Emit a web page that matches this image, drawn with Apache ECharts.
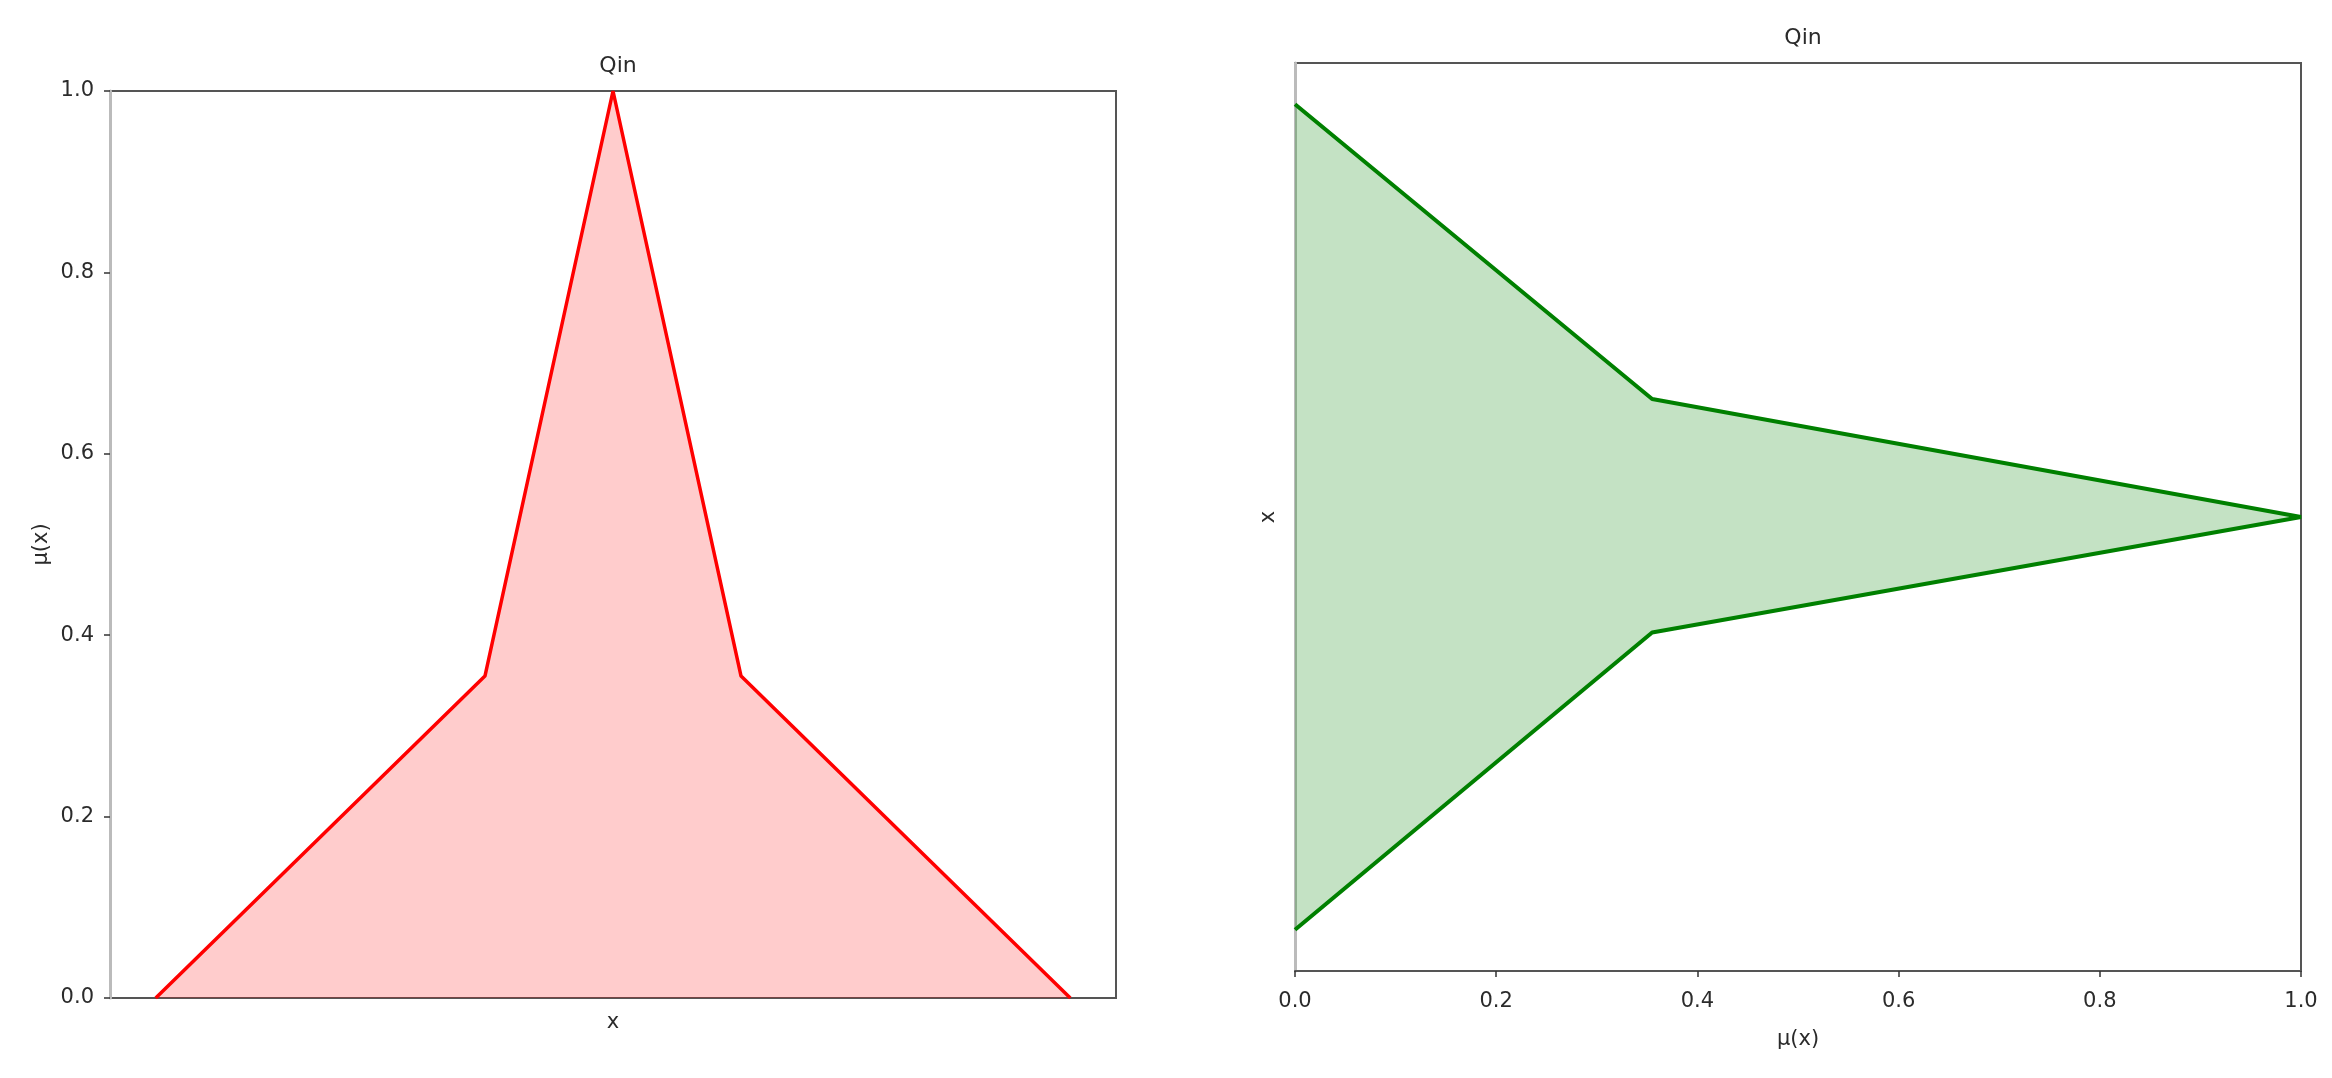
<!DOCTYPE html>
<html>
<head>
<meta charset="utf-8">
<script src="https://cdn.jsdelivr.net/npm/echarts@6/dist/echarts.min.js"></script>
<style>
  html, body { margin: 0; padding: 0; background: #fff; }
  #main { width: 2332px; height: 1078px; }
</style>
</head>
<body>
<div id="main"></div>
<script>
var chartDom = document.getElementById('main');
var myChart = echarts.init(chartDom);
var option;

// left panel: membership over x
const leftX = [0, 3.6, 5, 6.4, 10];
const leftMu = [0, 0.355, 1, 0.355, 0];
// right panel: same set, axes swapped
const rightMu = [0, 0.355, 1, 0.355, 0];
const rightX = [10, 6.43, 5, 3.6, 0];
const muTicks = [0, 0.2, 0.4, 0.6, 0.8, 1.0];

const titles = ['Qin', 'Qin'];
const font = 'DejaVu Sans';
const textColor = '#2b2b2b';

function muLabel(v) {
  return muTicks.indexOf(v) >= 0 ? v.toFixed(1) : '';
}

option = {
  animation: false,
  backgroundColor: '#fff',
  textStyle: { fontFamily: font },
  title: [
    {
      text: titles[0],
      left: 613,
      top: 50,
      textAlign: 'center',
      textStyle: { fontSize: 22, fontWeight: 'normal', color: textColor, fontFamily: font }
    },
    {
      text: titles[1],
      left: 1798,
      top: 22,
      textAlign: 'center',
      textStyle: { fontSize: 22, fontWeight: 'normal', color: textColor, fontFamily: font }
    }
  ],
  grid: [
    { left: 110, top: 91, width: 1006, height: 907, show: true, borderColor: '#555', borderWidth: 2, backgroundColor: 'transparent' },
    { left: 1295, top: 63, width: 1006, height: 908, show: true, borderColor: '#555', borderWidth: 2, backgroundColor: 'transparent' }
  ],
  xAxis: [
    {
      type: 'value',
      gridIndex: 0,
      min: -0.5,
      max: 10.5,
      name: 'x',
      nameLocation: 'middle',
      nameGap: 14,
      nameTextStyle: { fontSize: 21, color: textColor, fontFamily: font, verticalAlign: 'top' },
      axisLine: { show: false, onZero: false },
      axisTick: { show: false },
      axisLabel: { show: false },
      splitLine: { show: false }
    },
    {
      type: 'value',
      gridIndex: 1,
      min: 0,
      max: 1,
      interval: 0.2,
      name: 'μ(x)',
      nameLocation: 'middle',
      nameGap: 58,
      nameTextStyle: { fontSize: 21, color: textColor, fontFamily: font, verticalAlign: 'top' },
      axisLine: { show: true, onZero: false, lineStyle: { color: '#555', width: 2 } },
      axisTick: { show: true, length: 6, lineStyle: { color: '#333', width: 1.5 } },
      axisLabel: { formatter: muLabel, fontSize: 21, color: textColor, margin: 20, fontFamily: font },
      splitLine: { show: false }
    }
  ],
  yAxis: [
    {
      type: 'value',
      gridIndex: 0,
      min: 0,
      max: 1,
      interval: 0.2,
      name: 'μ(x)',
      nameLocation: 'middle',
      nameGap: 58,
      nameTextStyle: { fontSize: 21, color: textColor, fontFamily: font },
      axisLine: { show: true, onZero: false, lineStyle: { color: '#bbb', width: 3 } },
      axisTick: { show: true, length: 6, lineStyle: { color: '#333', width: 1.5 } },
      axisLabel: { formatter: muLabel, fontSize: 21, color: textColor, margin: 16, fontFamily: font },
      splitLine: { show: false }
    },
    {
      type: 'value',
      gridIndex: 1,
      min: -0.5,
      max: 10.5,
      name: 'x',
      nameLocation: 'middle',
      nameGap: 16,
      nameTextStyle: { fontSize: 21, color: textColor, fontFamily: font },
      axisLine: { show: true, onZero: false, lineStyle: { color: '#bbb', width: 3 } },
      axisTick: { show: false },
      axisLabel: { show: false },
      splitLine: { show: false }
    }
  ],
  series: [
    {
      name: 'Qin left',
      type: 'line',
      xAxisIndex: 0,
      yAxisIndex: 0,
      showSymbol: false,
      silent: true,
      z: 3,
      lineStyle: { color: '#ff0000', width: 3.5 },
      areaStyle: { color: 'rgba(255,0,0,0.2)', opacity: 1, origin: 0 },
      data: leftX.map((x, i) => [x, leftMu[i]])
    },
    {
      name: 'Qin right fill',
      type: 'custom',
      xAxisIndex: 1,
      yAxisIndex: 1,
      silent: true,
      z: 2,
      data: [0],
      renderItem: function (params, api) {
        const pts = rightMu.map((m, i) => api.coord([m, rightX[i]]));
        return {
          type: 'polygon',
          shape: { points: pts },
          style: { fill: 'rgba(0,128,0,0.23)' }
        };
      }
    },
    {
      name: 'Qin right',
      type: 'line',
      xAxisIndex: 1,
      yAxisIndex: 1,
      showSymbol: false,
      silent: true,
      z: 3,
      lineStyle: { color: '#008000', width: 4 },
      data: rightMu.map((m, i) => [m, rightX[i]])
    }
  ]
};

option && myChart.setOption(option);
</script>
</body>
</html>
